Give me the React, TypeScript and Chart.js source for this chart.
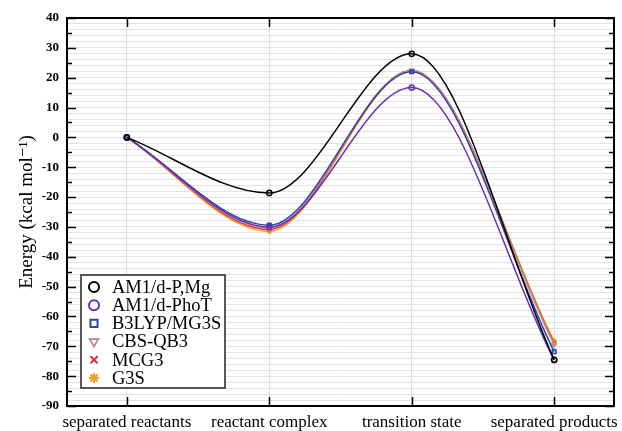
import React, { useEffect, useRef } from "react";
import { Chart, registerables } from "chart.js";
import { drawPoint } from "chart.js/helpers";

Chart.register(...registerables);

const categories = ["separated reactants", "reactant complex", "transition state", "separated products"];
const seriesNames = ["AM1/d-P,Mg", "AM1/d-PhoT", "B3LYP/MG3S", "CBS-QB3", "MCG3", "G3S"];
const am1dPMg = [0, -18.6, 28.0, -74.5];
const am1dPhoT = [0, -30.0, 16.7, -74.6];
const b3lyp = [0, -29.4, 22.0, -71.8];
const cbsqb3 = [0, -30.4, 22.3, -69.4];
const mcg3 = [0, -30.8, 22.4, -69.0];
const g3s = [0, -31.5, 22.1, -68.2];
const seriesValues = [am1dPMg, am1dPhoT, b3lyp, cbsqb3, mcg3, g3s];
const colors = ["#000000", "#6a2db8", "#2a48a8", "#c09090", "#e02a2a", "#f5a020"];
const pointStyles = ["circle", "circle", "rect", "triangle", "crossRot", "star"];
const yMin = -90;
const yMax = 40;

const SERIF = "'Liberation Serif', 'DejaVu Serif', serif";

const framePlugin = {
  id: "frame",
  afterDraw(chart: any) {
    const { ctx, chartArea: a } = chart;
    const y = chart.scales.y;
    const x = chart.scales.x;
    ctx.save();
    ctx.strokeStyle = "#000";
    ctx.lineWidth = 1.5;
    ctx.beginPath();
    for (let v = yMin; v <= yMax; v += 5) {
      const py = Math.round(y.getPixelForValue(v)) + 0.5;
      const len = v % 10 === 0 ? 9 : 5;
      ctx.moveTo(a.left, py);
      ctx.lineTo(a.left + len, py);
      ctx.moveTo(a.right, py);
      ctx.lineTo(a.right - len, py);
    }
    for (let i = 0; i < categories.length; i++) {
      const px = Math.round(x.getPixelForValue(i)) + 0.5;
      ctx.moveTo(px, a.bottom);
      ctx.lineTo(px, a.bottom - 9);
      ctx.moveTo(px, a.top);
      ctx.lineTo(px, a.top + 9);
    }
    ctx.stroke();
    ctx.lineWidth = 2;
    ctx.strokeRect(a.left, a.top, a.right - a.left, a.bottom - a.top);

    // legend box
    const bx = a.left + 14;
    const bw = 144;
    const bh = 113;
    const by = a.bottom - 18 - bh;
    ctx.fillStyle = "#fff";
    ctx.fillRect(bx, by, bw, bh);
    ctx.lineWidth = 1.5;
    ctx.strokeStyle = "#222";
    ctx.strokeRect(bx, by, bw, bh);
    ctx.font = "18.5px " + SERIF;
    ctx.textBaseline = "middle";
    ctx.textAlign = "left";
    for (let i = 0; i < seriesNames.length; i++) {
      const cy = by + 12 + i * 18.2;
      ctx.lineWidth = 2;
      ctx.strokeStyle = colors[i];
      ctx.fillStyle = pointStyles[i] === "star" || pointStyles[i] === "crossRot" ? colors[i] : "rgba(0,0,0,0)";
      drawPoint(ctx, { pointStyle: pointStyles[i], radius: 5, rotation: pointStyles[i] === "triangle" ? 180 : 0, borderWidth: 2 } as any, bx + 13, cy);
      ctx.fillStyle = "#000";
      ctx.fillText(seriesNames[i], bx + 31, cy + 1);
    }
    ctx.restore();
  },
};

export default function App() {
  const ref = useRef<HTMLCanvasElement | null>(null);
  useEffect(() => {
    document.body.style.margin = "0";
    const canvas = ref.current!;
    const chart = new Chart(canvas, {
      type: "line",
      data: {
        datasets: seriesNames.map((name, i) => ({
          label: name,
          data: seriesValues[i].map((v, k) => ({ x: k, y: v })),
          borderColor: colors[i],
          backgroundColor: "rgba(0,0,0,0)",
          borderWidth: 1.5,
          pointStyle: pointStyles[i] as any,
          pointRotation: pointStyles[i] === "triangle" ? 180 : 0,
          pointRadius: 2.6,
          pointBorderWidth: 1.5,
          pointBackgroundColor: "rgba(0,0,0,0)",
          pointBorderColor: colors[i],
          cubicInterpolationMode: "monotone" as const,
          tension: 0.4,
          fill: false,
        })),
      },
      options: {
        animation: false,
        responsive: false,
        layout: { padding: { top: 18, right: 8, left: 0, bottom: 0 } },
        plugins: { legend: { display: false }, tooltip: { enabled: false } },
        scales: {
          x: {
            type: "linear",
            min: -0.42,
            max: 3.42,
            afterBuildTicks: (s: any) => {
              s.ticks = categories.map((_, i) => ({ value: i }));
            },
            afterFit: (s: any) => {
              s.height = 25;
              s.paddingLeft = 0;
              s.paddingRight = 0;
            },
            border: { display: false },
            grid: { color: "#dcdcdc", lineWidth: 1, drawTicks: false },
            ticks: {
              autoSkip: false,
              maxRotation: 0,
              padding: 6,
              color: "#000",
              font: { family: SERIF, size: 17 },
              callback: (v: any) => categories[v] ?? "",
            },
          },
          y: {
            type: "linear",
            min: yMin,
            max: yMax,
            afterFit: (s: any) => {
              s.width = 67;
            },
            border: { display: false },
            grid: { color: "#e2e2e2", lineWidth: 1, drawTicks: false },
            title: {
              display: true,
              text: "Energy (kcal mol⁻¹)",
              color: "#000",
              font: { family: SERIF, size: 19 },
              padding: { top: 16, bottom: 0 },
            },
            ticks: {
              stepSize: 2,
              autoSkip: false,
              maxTicksLimit: 200,
              padding: 8,
              color: "#000",
              font: { family: SERIF, size: 13, weight: "bold" },
              callback: (v: any) => (Number(v) % 10 === 0 ? String(v) : ""),
            },
          },
        },
      },
      plugins: [framePlugin],
    });
    return () => chart.destroy();
  }, []);
  return (
    <div style={{ width: 622, height: 431, background: "#fff" }}>
      <canvas ref={ref} width={622} height={431} style={{ display: "block" }} />
    </div>
  );
}
